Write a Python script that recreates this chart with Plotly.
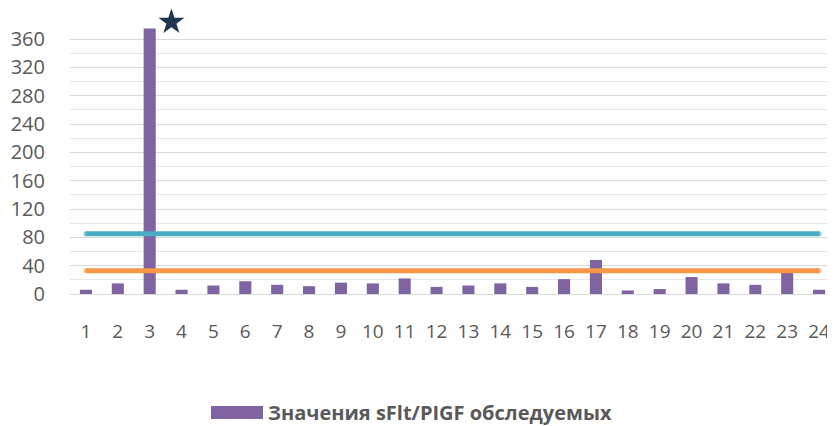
import math
import plotly.graph_objects as go

patients = list(range(1, 25))
sflt_plgf = [6, 15, 375, 6, 12, 18, 13, 11, 16, 15, 22, 10, 12, 15, 10, 21, 48, 5, 7, 24, 15, 13, 31, 6]
threshold_high = 85
threshold_low = 33
series_name = "Значения sFlt/PIGF обследуемых"
y_ticks = [0, 40, 80, 120, 160, 200, 240, 280, 320, 360]
y_max = 380

# page body has an 8px margin; size the figure so it fits the 835x426 window
OFF = 8
W, H = 835 - OFF, 426 - OFF
ml, mr, mt, mb = 70 - OFF, 0, 25 - OFF, 132
pw, ph = W - ml - mr, H - mt - mb

fig = go.Figure()
fig.add_trace(go.Bar(
    x=patients, y=sflt_plgf, name=series_name,
    marker=dict(color="#8064a2", line=dict(width=0)),
    showlegend=False,
))

def end_sizes(n, s):
    return [s] + [0] * (n - 2) + [s]

for val, col in [(threshold_high, "#4bacc6"), (threshold_low, "#f79646")]:
    fig.add_trace(go.Scatter(
        x=patients, y=[val] * len(patients), mode="lines+markers",
        line=dict(color=col, width=5),
        marker=dict(color=col, size=end_sizes(len(patients), 5), line=dict(width=0)),
        showlegend=False, hoverinfo="skip",
    ))

# star shape next to the top of the outlier bar (pixel-sized, anchored on the bar)
imax = sflt_plgf.index(max(sflt_plgf))
cx, cy, R = 21.7, 6.5, 13.7
r_in = R * 0.382
pts = []
for k in range(10):
    ang = math.pi / 2 + k * math.pi / 5
    rr = R if k % 2 == 0 else r_in
    pts.append((cx + rr * math.cos(ang), cy + rr * math.sin(ang)))
star_path = "M " + " L ".join(f"{px:.2f},{py:.2f}" for px, py in pts) + " Z"
fig.add_shape(type="path", path=star_path,
              xref="x", yref="paper", xsizemode="pixel", ysizemode="pixel",
              xanchor=patients[imax], yanchor=sflt_plgf[imax] / y_max,
              fillcolor="#1f3651", line=dict(width=0))

# legend (manual), positions given in window pixels
def px_to_paper_x(px):
    return (px - OFF - ml) / pw

def px_to_paper_y(py):
    return (H - mb - (py - OFF)) / ph

fig.add_shape(type="rect", xref="paper", yref="paper",
              x0=px_to_paper_x(211), x1=px_to_paper_x(263),
              y0=px_to_paper_y(419), y1=px_to_paper_y(406),
              fillcolor="#8064a2", line=dict(width=0))
fig.add_annotation(xref="paper", yref="paper", x=px_to_paper_x(266), y=px_to_paper_y(412.5),
                   xanchor="left", yanchor="middle", showarrow=False,
                   text="<b>" + series_name + "</b>",
                   font=dict(family="Open Sans", size=20, color="#595959"))

fig.update_layout(
    width=W, height=H,
    margin=dict(l=ml, r=mr, t=mt, b=mb),
    paper_bgcolor="white", plot_bgcolor="white",
    bargap=0.62,
    font=dict(family="Open Sans", color="#595959"),
    xaxis=dict(
        tickmode="array", tickvals=patients, ticktext=[str(p) for p in patients],
        range=[0.5, 24.5], showgrid=False, zeroline=False, showline=False,
        ticks="outside", ticklen=20, tickcolor="rgba(0,0,0,0)", tickangle=0,
        tickfont=dict(size=19, color="#595959"), ticklabeloverflow="allow",
    ),
    yaxis=dict(
        range=[0, y_max], tickmode="array", tickvals=y_ticks,
        showgrid=True, gridcolor="#d9d9d9", gridwidth=1,
        minor=dict(dtick=20, tick0=0, showgrid=True, gridcolor="#e6e6e6", gridwidth=1),
        zeroline=True, zerolinecolor="#d9d9d9", zerolinewidth=1,
        showline=False, ticks="outside", ticklen=20, tickcolor="rgba(0,0,0,0)",
        tickfont=dict(size=20, color="#595959"), automargin=False,
    ),
)

fig.write_html("out.html")
